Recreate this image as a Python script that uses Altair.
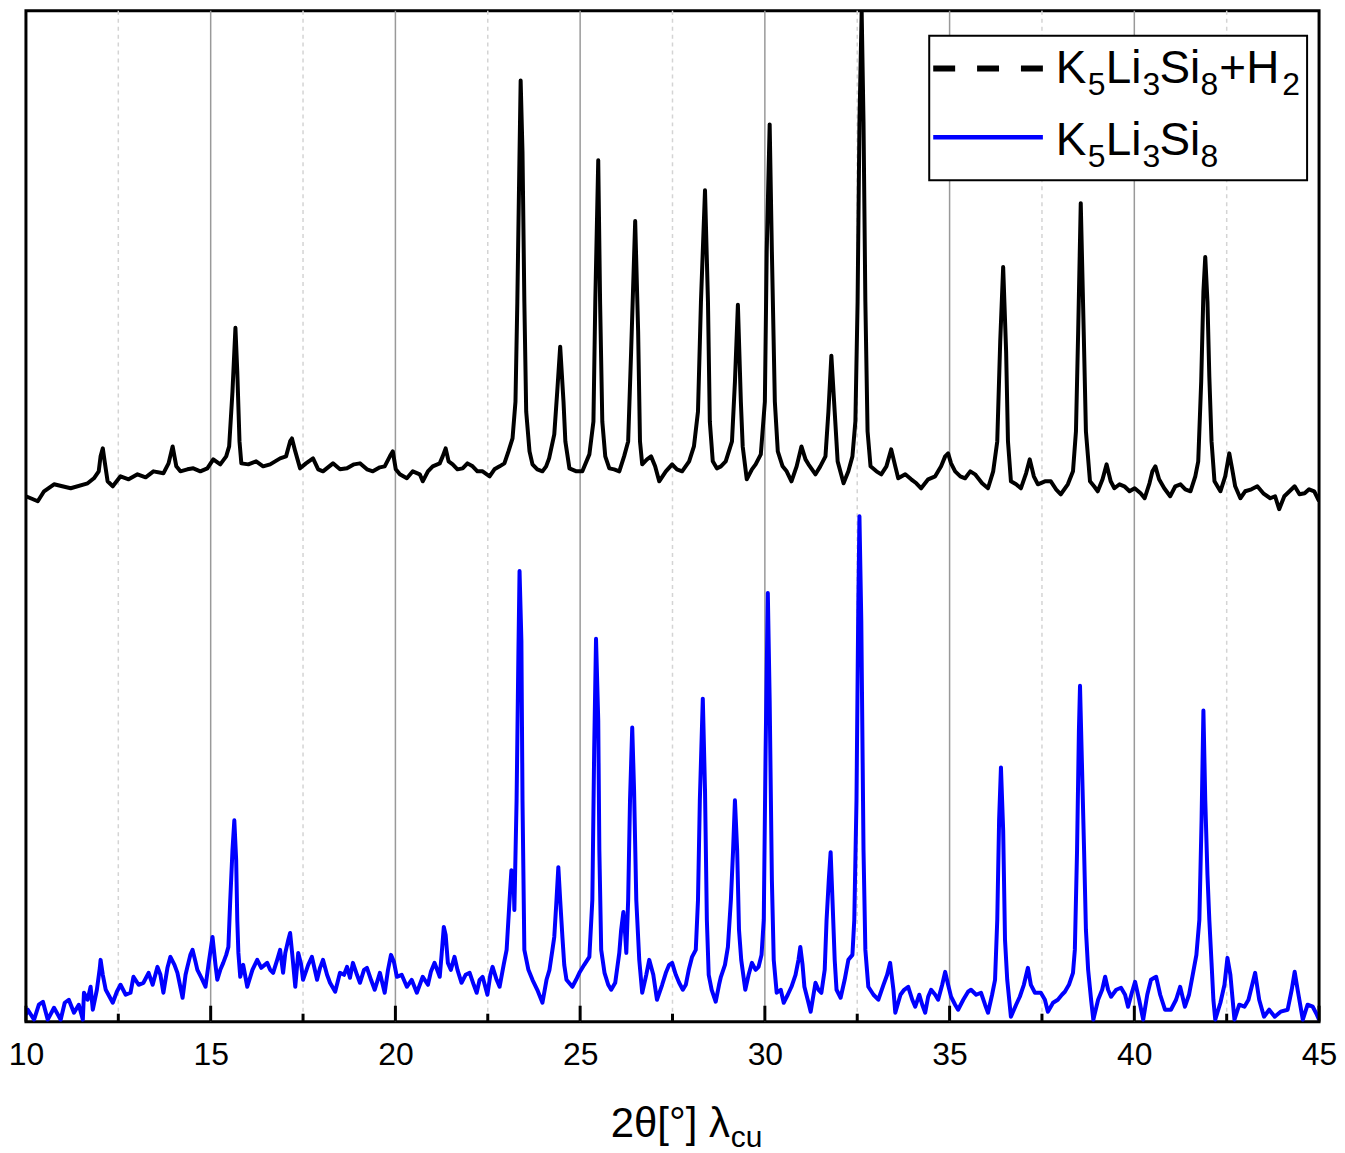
import altair as alt
import pandas as pd

# ---- data (2theta in degrees, intensity in arbitrary units) ----
black_trace = [
    (10.00, 527), (10.32, 522), (10.49, 532), (10.76, 539), (11.21, 535), (11.67, 540), (11.84, 545),
    (11.97, 552), (12.02, 567), (12.08, 575), (12.13, 562), (12.21, 542), (12.35, 537), (12.56, 547),
    (12.78, 544), (13.02, 549), (13.24, 546), (13.45, 552), (13.72, 550), (13.86, 560), (13.97, 577),
    (14.07, 557), (14.18, 552), (14.37, 554), (14.53, 555), (14.72, 552), (14.91, 555), (15.07, 564),
    (15.26, 559), (15.42, 567), (15.50, 577), (15.59, 632), (15.67, 696), (15.72, 652), (15.78, 582),
    (15.83, 560), (16.02, 559), (16.23, 562), (16.42, 557), (16.61, 559), (16.88, 565), (17.04, 567),
    (17.15, 582), (17.20, 585), (17.29, 572), (17.42, 555), (17.58, 560), (17.77, 565), (17.91, 554),
    (18.04, 552), (18.31, 560), (18.50, 554), (18.69, 555), (18.88, 559), (19.04, 560), (19.23, 554),
    (19.39, 552), (19.58, 556), (19.71, 557), (19.85, 567), (19.93, 572), (20.01, 554), (20.12, 549),
    (20.31, 545), (20.47, 552), (20.66, 549), (20.74, 542), (20.88, 552), (21.01, 557), (21.20, 560),
    (21.28, 567), (21.36, 575), (21.44, 562), (21.55, 559), (21.68, 554), (21.82, 555), (21.95, 560),
    (22.09, 557), (22.22, 552), (22.36, 552), (22.55, 547), (22.68, 554), (22.82, 557), (22.95, 560),
    (23.06, 572), (23.17, 585), (23.25, 622), (23.30, 722), (23.36, 872), (23.39, 944), (23.44, 872),
    (23.49, 722), (23.54, 612), (23.63, 572), (23.71, 559), (23.84, 554), (23.98, 552), (24.08, 557),
    (24.16, 565), (24.30, 589), (24.38, 632), (24.46, 677), (24.55, 622), (24.60, 582), (24.71, 555),
    (24.90, 552), (25.06, 552), (25.25, 569), (25.36, 602), (25.41, 722), (25.49, 864), (25.54, 722),
    (25.60, 602), (25.68, 567), (25.79, 555), (25.92, 554), (26.06, 552), (26.19, 567), (26.30, 582),
    (26.38, 672), (26.49, 803), (26.57, 692), (26.62, 582), (26.68, 559), (26.81, 564), (26.92, 567),
    (27.03, 557), (27.14, 542), (27.32, 552), (27.49, 559), (27.62, 554), (27.76, 552), (27.95, 562),
    (28.08, 577), (28.19, 612), (28.27, 722), (28.38, 834), (28.46, 722), (28.51, 602), (28.59, 562),
    (28.70, 555), (28.81, 557), (28.94, 562), (29.11, 582), (29.19, 642), (29.27, 719), (29.35, 622),
    (29.40, 577), (29.51, 544), (29.65, 554), (29.75, 559), (29.89, 569), (30.00, 622), (30.05, 772),
    (30.13, 900), (30.19, 772), (30.27, 622), (30.35, 572), (30.48, 557), (30.59, 552), (30.72, 542),
    (30.86, 557), (30.99, 577), (31.10, 564), (31.18, 559), (31.37, 549), (31.50, 557), (31.64, 567),
    (31.72, 612), (31.80, 668), (31.89, 612), (31.97, 562), (32.13, 540), (32.26, 552), (32.37, 567),
    (32.45, 602), (32.51, 722), (32.56, 902), (32.62, 1014), (32.67, 902), (32.72, 722), (32.78, 592),
    (32.86, 557), (33.02, 552), (33.15, 549), (33.29, 557), (33.42, 574), (33.53, 557), (33.61, 545),
    (33.80, 549), (33.96, 544), (34.10, 540), (34.23, 535), (34.42, 544), (34.61, 547), (34.77, 557),
    (34.88, 567), (34.96, 570), (35.04, 560), (35.15, 552), (35.29, 547), (35.42, 545), (35.56, 552),
    (35.69, 549), (35.88, 540), (36.04, 535), (36.18, 552), (36.29, 582), (36.37, 682), (36.45, 757),
    (36.53, 672), (36.58, 582), (36.66, 542), (36.80, 539), (36.93, 535), (37.07, 550), (37.17, 564),
    (37.28, 547), (37.39, 539), (37.58, 542), (37.74, 542), (37.88, 534), (38.01, 529), (38.20, 539),
    (38.34, 552), (38.42, 592), (38.48, 692), (38.55, 821), (38.63, 692), (38.69, 592), (38.80, 542),
    (38.91, 537), (39.01, 532), (39.14, 544), (39.25, 559), (39.36, 542), (39.46, 535), (39.60, 539),
    (39.73, 537), (39.87, 532), (40.01, 535), (40.17, 530), (40.28, 525), (40.41, 540), (40.49, 552),
    (40.57, 557), (40.67, 544), (40.81, 535), (40.97, 527), (41.11, 537), (41.25, 539), (41.38, 534),
    (41.52, 532), (41.65, 547), (41.73, 562), (41.81, 642), (41.87, 732), (41.92, 767), (41.98, 722),
    (42.03, 647), (42.09, 582), (42.17, 542), (42.33, 532), (42.46, 547), (42.57, 570), (42.65, 554),
    (42.73, 537), (42.87, 525), (43.00, 532), (43.17, 534), (43.33, 537), (43.49, 530), (43.68, 525),
    (43.81, 527), (43.92, 514), (44.06, 527), (44.20, 532), (44.34, 537), (44.47, 529), (44.61, 530),
    (44.73, 534), (44.87, 532), (45.00, 522),
]

blue_trace = [
    (10.00, 7), (10.05, 12), (10.22, 2), (10.35, 17), (10.46, 20), (10.59, 2), (10.76, 14), (10.94, 2),
    (11.05, 19), (11.16, 22), (11.30, 9), (11.43, 17), (11.54, 2), (11.57, 29), (11.67, 22), (11.75, 35),
    (11.81, 12), (11.92, 32), (12.00, 54), (12.02, 62), (12.08, 47), (12.16, 32), (12.35, 19), (12.46, 30),
    (12.56, 37), (12.70, 27), (12.83, 29), (12.91, 45), (13.05, 37), (13.18, 39), (13.32, 49), (13.43, 37),
    (13.56, 55), (13.64, 47), (13.72, 29), (13.83, 54), (13.91, 65), (14.02, 57), (14.10, 49), (14.24, 24),
    (14.32, 47), (14.37, 55), (14.45, 67), (14.51, 72), (14.59, 60), (14.64, 52), (14.75, 44), (14.86, 35),
    (14.94, 57), (15.05, 85), (15.13, 57), (15.18, 42), (15.26, 52), (15.34, 59), (15.42, 67), (15.48, 75),
    (15.53, 122), (15.59, 172), (15.64, 202), (15.69, 162), (15.72, 102), (15.75, 69), (15.80, 45),
    (15.88, 57), (15.99, 35), (16.13, 52), (16.26, 62), (16.37, 54), (16.53, 59), (16.61, 52), (16.69, 49),
    (16.80, 62), (16.88, 72), (16.96, 49), (17.02, 69), (17.10, 82), (17.15, 89), (17.21, 67), (17.29, 35),
    (17.37, 69), (17.45, 57), (17.50, 42), (17.64, 57), (17.74, 65), (17.88, 42), (17.96, 54), (18.04, 62),
    (18.15, 47), (18.23, 39), (18.37, 30), (18.50, 49), (18.61, 47), (18.69, 55), (18.77, 44), (18.85, 59),
    (18.96, 47), (19.04, 39), (19.15, 52), (19.23, 54), (19.34, 42), (19.44, 32), (19.58, 49), (19.71, 29),
    (19.80, 52), (19.88, 67), (19.96, 60), (20.04, 45), (20.17, 47), (20.31, 35), (20.44, 42), (20.58, 29),
    (20.66, 37), (20.74, 45), (20.88, 37), (20.96, 50), (21.06, 59), (21.20, 45), (21.25, 67), (21.31, 95),
    (21.36, 87), (21.42, 59), (21.50, 52), (21.60, 65), (21.68, 52), (21.79, 39), (21.90, 47), (22.01, 49),
    (22.12, 37), (22.20, 29), (22.28, 42), (22.36, 45), (22.44, 34), (22.49, 27), (22.57, 47), (22.63, 55),
    (22.74, 42), (22.82, 35), (22.93, 57), (23.01, 72), (23.09, 122), (23.14, 152), (23.20, 142),
    (23.22, 112), (23.28, 222), (23.33, 372), (23.36, 452), (23.41, 382), (23.44, 222), (23.49, 72),
    (23.60, 52), (23.71, 42), (23.84, 32), (23.98, 19), (24.09, 42), (24.17, 52), (24.25, 72), (24.30, 85),
    (24.36, 122), (24.41, 155), (24.46, 122), (24.52, 85), (24.57, 57), (24.63, 42), (24.79, 35),
    (24.89, 42), (24.98, 49), (25.11, 57), (25.25, 65), (25.33, 122), (25.38, 272), (25.43, 384),
    (25.49, 302), (25.52, 172), (25.57, 72), (25.66, 49), (25.76, 37), (25.84, 32), (25.95, 39),
    (26.06, 69), (26.11, 92), (26.17, 110), (26.22, 87), (26.25, 69), (26.30, 122), (26.35, 222),
    (26.41, 295), (26.46, 232), (26.52, 122), (26.60, 62), (26.68, 29), (26.79, 47), (26.87, 62),
    (26.98, 47), (27.08, 22), (27.22, 37), (27.32, 49), (27.41, 57), (27.49, 59), (27.59, 47), (27.68, 39),
    (27.78, 32), (27.86, 37), (27.94, 52), (28.03, 65), (28.13, 72), (28.19, 122), (28.24, 222),
    (28.32, 324), (28.38, 232), (28.43, 102), (28.48, 47), (28.56, 32), (28.67, 20), (28.76, 37),
    (28.81, 45), (28.92, 57), (29.00, 75), (29.08, 122), (29.14, 172), (29.19, 222), (29.25, 172),
    (29.30, 92), (29.36, 62), (29.47, 32), (29.56, 47), (29.65, 59), (29.75, 52), (29.83, 55), (29.91, 67),
    (29.97, 102), (30.02, 272), (30.08, 430), (30.13, 322), (30.19, 142), (30.24, 62), (30.32, 29),
    (30.43, 32), (30.51, 19), (30.62, 27), (30.72, 35), (30.83, 47), (30.91, 62), (30.96, 75), (31.02, 57),
    (31.07, 35), (31.16, 22), (31.24, 10), (31.37, 39), (31.45, 32), (31.53, 29), (31.62, 52), (31.67, 102),
    (31.73, 142), (31.78, 170), (31.83, 122), (31.89, 62), (31.94, 32), (32.05, 24), (32.16, 42),
    (32.26, 62), (32.37, 67), (32.42, 102), (32.48, 222), (32.53, 422), (32.56, 507), (32.61, 402),
    (32.67, 172), (32.72, 72), (32.80, 35), (32.94, 27), (33.07, 22), (33.21, 37), (33.31, 47), (33.39, 59),
    (33.48, 32), (33.53, 9), (33.67, 27), (33.77, 32), (33.88, 35), (33.99, 22), (34.07, 15), (34.18, 27),
    (34.26, 17), (34.34, 9), (34.42, 25), (34.50, 32), (34.61, 27), (34.69, 22), (34.80, 37), (34.88, 50),
    (34.96, 37), (35.04, 25), (35.15, 17), (35.23, 12), (35.37, 22), (35.50, 30), (35.58, 32), (35.72, 27),
    (35.85, 29), (35.96, 17), (36.04, 9), (36.15, 27), (36.23, 42), (36.29, 102), (36.34, 202), (36.39, 255),
    (36.45, 192), (36.50, 82), (36.56, 42), (36.66, 5), (36.80, 17), (36.90, 25), (37.01, 37), (37.12, 54),
    (37.20, 37), (37.31, 29), (37.47, 29), (37.58, 22), (37.66, 10), (37.80, 19), (37.93, 22), (38.04, 27),
    (38.12, 30), (38.23, 37), (38.34, 49), (38.39, 72), (38.45, 172), (38.50, 292), (38.53, 337),
    (38.58, 262), (38.64, 172), (38.69, 92), (38.75, 52), (38.83, 22), (38.89, 2), (39.02, 22), (39.13, 32),
    (39.21, 45), (39.29, 32), (39.37, 25), (39.51, 32), (39.64, 34), (39.75, 27), (39.83, 15), (39.94, 30),
    (40.02, 40), (40.13, 22), (40.24, 2), (40.35, 27), (40.45, 42), (40.54, 44), (40.59, 45), (40.70, 27),
    (40.83, 12), (40.99, 12), (41.13, 22), (41.24, 35), (41.37, 15), (41.48, 27), (41.57, 45), (41.68, 67),
    (41.76, 102), (41.82, 202), (41.87, 312), (41.92, 222), (41.98, 147), (42.03, 102), (42.09, 59),
    (42.14, 22), (42.19, 2), (42.33, 19), (42.44, 37), (42.52, 64), (42.60, 47), (42.71, 2), (42.84, 17),
    (42.98, 15), (43.09, 22), (43.19, 37), (43.27, 49), (43.38, 22), (43.51, 5), (43.65, 12), (43.80, 5),
    (43.96, 10), (44.15, 12), (44.26, 32), (44.34, 50), (44.42, 32), (44.56, 2), (44.69, 17), (44.83, 15),
    (44.94, 7), (45.00, 2),
]

major_ticks = [10, 15, 20, 25, 30, 35, 40, 45]
minor_ticks = [12.5, 17.5, 22.5, 27.5, 32.5, 37.5, 42.5]
major_grid = [15, 20, 25, 30, 35, 40]
# legend labels split into normal / subscript pieces: K5Li3Si8+H2 and K5Li3Si8
legend_pieces_1 = [("K", False), ("5", True), ("Li", False), ("3", True), ("Si", False), ("8", True),
                   ("+H", False), ("2", True)]
legend_pieces_2 = [("K", False), ("5", True), ("Li", False), ("3", True), ("Si", False), ("8", True)]
x_title_main = "2\u03b8[\u00b0] \u03bb"
x_title_sub = "cu"

# ---- layout ----
W, H = 1297, 1014
FONT = "Liberation Sans"
xs = alt.Scale(domain=[10, 45], nice=False, zero=False)
ys = alt.Scale(domain=[0, 1014], nice=False, zero=False)

df_black = pd.DataFrame(black_trace, columns=["two_theta", "intensity"])
df_blue = pd.DataFrame(blue_trace, columns=["two_theta", "intensity"])
one = pd.DataFrame({"k": [0]})

x_axis = alt.Axis(values=major_ticks, ticks=False, domain=False, grid=False, labelFontSize=32,
                  labelFont=FONT, labelColor="black", labelPadding=18, title=None, labelFlush=False)

minor_grid_layer = alt.Chart(pd.DataFrame({"g": minor_ticks})).mark_rule(
    color="#d4d4d4", strokeWidth=1.5, strokeDash=[4, 4]
).encode(x=alt.X("g:Q", scale=xs, axis=x_axis))

major_grid_layer = alt.Chart(pd.DataFrame({"g": major_grid})).mark_rule(
    color="#999999", strokeWidth=1.5
).encode(x=alt.X("g:Q", scale=xs, axis=x_axis))

black_layer = alt.Chart(df_black).mark_line(color="black", strokeWidth=4, clip=True,
                                            strokeJoin="round").encode(
    x=alt.X("two_theta:Q", scale=xs, axis=x_axis),
    y=alt.Y("intensity:Q", scale=ys, axis=None),
)
blue_layer = alt.Chart(df_blue).mark_line(color="#0000ff", strokeWidth=4, clip=True,
                                          strokeJoin="round").encode(
    x=alt.X("two_theta:Q", scale=xs, axis=x_axis),
    y=alt.Y("intensity:Q", scale=ys, axis=None),
)

major_tick_layer = alt.Chart(pd.DataFrame({"t": major_ticks})).mark_rule(
    color="black", strokeWidth=3
).encode(x=alt.X("t:Q", scale=xs, axis=x_axis), y=alt.value(H - 16), y2=alt.value(H))
minor_tick_layer = alt.Chart(pd.DataFrame({"t": minor_ticks})).mark_rule(
    color="black", strokeWidth=3
).encode(x=alt.X("t:Q", scale=xs, axis=x_axis), y=alt.value(H - 8), y2=alt.value(H))

# legend (drawn by hand, top right)
legend_box = alt.Chart(one).mark_rect(fill="white", stroke="black", strokeWidth=2).encode(
    x=alt.value(906), x2=alt.value(1285), y=alt.value(25), y2=alt.value(170)
)
legend_line1 = alt.Chart(one).mark_rule(color="black", strokeWidth=6, strokeDash=[22, 22]).encode(
    x=alt.value(910), x2=alt.value(1020), y=alt.value(58)
)
legend_line2 = alt.Chart(one).mark_rule(color="#0000ff", strokeWidth=4.5).encode(
    x=alt.value(910), x2=alt.value(1020), y=alt.value(127)
)

# x positions of the label pieces (pixels), taken from the reference layout
piece_x = [1033, 1065, 1083, 1120, 1137, 1178, 1197, 1260]


def label_layers(pieces, baseline_y):
    layers = []
    for (txt, is_sub), px in zip(pieces, piece_x):
        layers.append(
            alt.Chart(pd.DataFrame({"label": [txt]})).mark_text(
                align="left", baseline="alphabetic", fontSize=32 if is_sub else 46,
                font=FONT, color="black"
            ).encode(x=alt.value(px), y=alt.value(baseline_y + (12 if is_sub else 0)), text="label:N")
        )
    return layers


legend_text_layers = label_layers(legend_pieces_1, 73) + label_layers(legend_pieces_2, 145)

# axis title with subscript
title_main = alt.Chart(pd.DataFrame({"label": [x_title_main]})).mark_text(
    align="right", baseline="alphabetic", fontSize=42, font=FONT, color="black"
).encode(x=alt.value(706), y=alt.value(1130), text="label:N")
title_sub = alt.Chart(pd.DataFrame({"label": [x_title_sub]})).mark_text(
    align="left", baseline="alphabetic", fontSize=30, font=FONT, color="black"
).encode(x=alt.value(707), y=alt.value(1140), text="label:N")

chart = alt.layer(
    minor_grid_layer, major_grid_layer, black_layer, blue_layer,
    major_tick_layer, minor_tick_layer,
    legend_box, legend_line1, legend_line2, *legend_text_layers,
    title_main, title_sub,
).properties(width=W, height=H, padding=0, background="white").configure_view(
    stroke="black", strokeWidth=3
)

chart.save("out.html", embed_options={"renderer": "svg", "actions": False})
